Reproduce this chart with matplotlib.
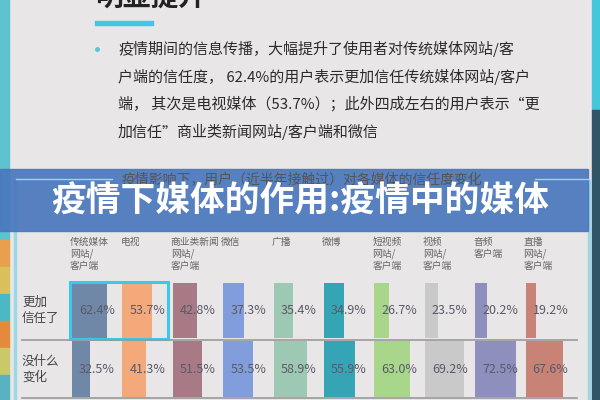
import numpy as np
import matplotlib
matplotlib.use("Agg")
import matplotlib.pyplot as plt
from matplotlib.patches import Rectangle

plt.rcParams['font.family'] = ['Noto Sans CJK SC', 'DejaVu Sans']

# 数据
categories = ["传统媒体\n网站/\n客户端", "电视", "商业类新闻\n网站/\n客户端", "微信", "广播",
              "微博", "短视频\n网站/\n客户端", "视频\n网站/\n客户端", "音频\n客户端", "直播\n网站/\n客户端"]
more_trust = [62.4, 53.7, 42.8, 37.3, 35.4, 34.9, 26.7, 23.5, 20.2, 19.2]
no_change = [32.5, 41.3, 51.5, 53.5, 58.9, 55.9, 63.0, 69.2, 72.5, 67.6]
row_labels = ["更加\n信任了", "没什么\n变化"]
bar_colors = ['#7088a8', '#f4a97a', '#a87a86', '#829ddb', '#9dc8b3',
              '#35a5b6', '#a8d68b', '#c9c9c9', '#8e8fbd', '#c98276']

title = "疫情下媒体的作用:疫情中的媒体"
chart_title = "疫情影响下，用户（近半年接触过）对各媒体的信任度变化"
bullet_lines = ["疫情期间的信息传播，大幅提升了使用者对传统媒体网站/客",
                "户端的信任度， 62.4%的用户表示更加信任传统媒体网站/客户",
                "端， 其次是电视媒体（53.7%）；此外四成左右的用户表示“更",
                "加信任”商业类新闻网站/客户端和微信"]

fig = plt.figure(figsize=(6, 4), dpi=100)
fig.patch.set_facecolor('#e8e6e7')
ax = fig.add_axes([0, 0, 1, 1])
ax.set_xlim(0, 600)
ax.set_ylim(400, 0)
ax.axis('off')

# 两侧装饰条
ax.add_patch(Rectangle((0, 0), 9, 240, color='#5cc3cf'))
for k, c in enumerate(['#e9a04e', '#d9c05a', '#4bb8c4', '#e48a3c', '#c9c86a', '#58b2c2']):
    ax.add_patch(Rectangle((0, 240 + k * 27), 9, 27, color=c))
ax.add_patch(Rectangle((592, 0), 8, 110, color='#45c6da'))
ax.add_patch(Rectangle((592, 110), 8, 290, color='#2f5566'))
ax.add_patch(Rectangle((588, 180), 2, 220, color='#9ad8e6'))
ax.add_patch(Rectangle((14, 180), 2, 220, color='#9ad8e6'))

# 顶部标题与要点
ax.text(95, 7, "明显提升", fontsize=20, fontweight='bold', color='#222222', va='baseline')
ax.add_patch(Rectangle((95, 21), 58, 4, color='#3fc8e4'))
ax.plot([97], [49], 'o', ms=2.5, color='#55c6e0')
for k, line in enumerate(bullet_lines):
    ax.text(118, 49 + k * 27.5, line, fontsize=10.8, color='#2b2b2b', va='center')

# 图表框与标题（被横幅遮住）
ax.plot([16, 112], [179, 179], color='#9ad8e6', lw=1)
ax.plot([535, 588], [179, 179], color='#9ad8e6', lw=1)
ax.text(302, 180, chart_title, fontsize=10, color='#555555', ha='center', va='center')

# 条形
col_x0, col_step, px_per_pct = 72, 50.4, 0.56
col_x = col_x0 + col_step * np.arange(len(categories))
row_top = [283, 341]
row_h = [55, 56]
for r, vals in enumerate([more_trust, no_change]):
    vals = np.array(vals)
    yc = row_top[r] + row_h[r] / 2
    ax.barh(yc, vals * px_per_pct, left=col_x, height=row_h[r], color=bar_colors)
    for x, v in zip(col_x, vals):
        ax.text(x + 7, yc + 0.5, f"{v:.1f}%", fontsize=9, color='#5a5a68', va='center')
    ax.text(22, yc, row_labels[r], fontsize=9, color='#444444', va='center', linespacing=1.3)

for y in [339.5, 397.5]:
    ax.plot([22, 577], [y, y], color='#9a9a9a', lw=1.2)

# 高亮框
ax.add_patch(Rectangle((70, 282), 98, 57, fill=False, edgecolor='#3cc8e6', lw=2.2))

# 列标题
for x, name in zip(col_x, categories):
    ax.text(x - 2, 237, name, fontsize=7, color='#666666', va='top', linespacing=1.2)

# 横幅
ax.add_patch(Rectangle((0, 169), 588, 62, color='#4a78bd', alpha=0.92))
ax.text(300, 201, title, fontsize=25, fontweight='bold', color='white', ha='center', va='center')

fig.savefig("out.png", dpi=100, facecolor=fig.get_facecolor())
